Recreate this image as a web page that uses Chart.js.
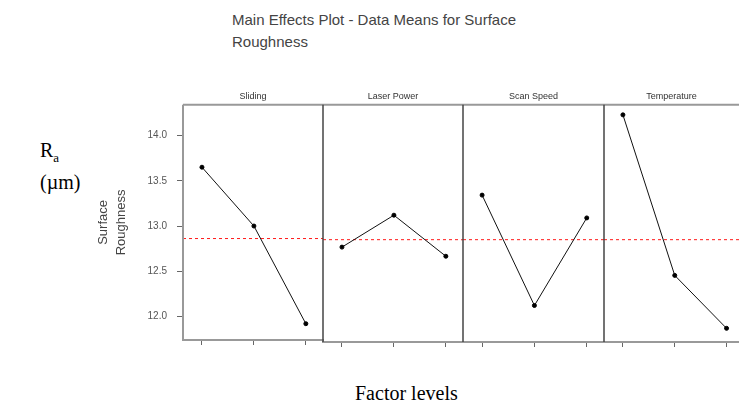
<!DOCTYPE html>
<html>
<head>
<meta charset="utf-8">
<script src="https://cdn.jsdelivr.net/npm/chart.js@4"></script>
<style>
  body { margin: 0; background: #fff; width: 739px; height: 415px; position: relative; overflow: hidden; }
  .box { position: absolute; }
  #mainTitle { position: absolute; left: 232px; top: 9px; font: 15px "Liberation Sans", Arial, sans-serif; color: #444; line-height: 22px; }
  #ra { position: absolute; left: 40px; top: 138px; font: 20px "Liberation Serif", "Times New Roman", serif; color: #000; line-height: 25px; }
  #ra sub { font-size: 13px; }
  #xlab { position: absolute; left: 355px; top: 382px; font: 20px "Liberation Serif", "Times New Roman", serif; color: #000; }
</style>
</head>
<body>
<div id="mainTitle">Main Effects Plot - Data Means for Surface<br>Roughness</div>
<div id="ra">R<sub>a</sub><br>(µm)</div>
<div id="xlab">Factor levels</div>

<!-- each box is 5px wider on the sides where Chart.js leaves its inner gap -->
<div class="box" style="left:90px;top:86px;width:238px;height:270px"><canvas id="c0"></canvas></div>
<div class="box" style="left:318px;top:86px;width:150px;height:266px"><canvas id="c1"></canvas></div>
<div class="box" style="left:458px;top:86px;width:151px;height:266px"><canvas id="c2"></canvas></div>
<div class="box" style="left:599px;top:86px;width:145px;height:266px"><canvas id="c3"></canvas></div>

<script>
// factors and mean values at levels 1,2,3
const factors = ["Sliding", "Laser Power", "Scan Speed", "Temperature"];
const levels = [1, 2, 3];
const sliding = [13.65, 13.0, 11.92];
const laserPower = [12.78, 13.13, 12.68];
const scanSpeed = [13.35, 12.14, 13.10];
const temperature = [14.23, 12.47, 11.89];
const yTicks = [12.0, 12.5, 13.0, 13.5, 14.0];

const series = [sliding, laserPower, scanSpeed, temperature];
const all = series.flat();
const grandMean = all.reduce((a, b) => a + b, 0) / all.length;

const yMin = 11.74, yMax = 14.34;
const xMin = 0.635;
const xMaxs = [3.33, 3.33, 3.33, 3.24];

const framePlugin = {
    id: 'frame',
    afterDraw(chart) {
        const a = chart.chartArea;
        const ctx = chart.ctx;
        ctx.save();
        ctx.lineWidth = 2;
        ctx.strokeStyle = '#999';
        ctx.beginPath();
        ctx.moveTo(a.left, a.top);
        ctx.lineTo(a.right, a.top);
        ctx.stroke();
        ctx.beginPath();
        ctx.moveTo(a.left, a.top);
        ctx.lineTo(a.left, a.bottom);
        if (chart.options.panelIndex > 0) {
            ctx.strokeStyle = '#444';
            ctx.lineWidth = 1.5;
        }
        ctx.stroke();
        ctx.restore();
    }
};

for (let i = 0; i < 4; i++) {
    const first = i === 0;
    const xMax = xMaxs[i];
    new Chart(document.getElementById('c' + i), {
        type: 'line',
        data: {
            datasets: [
                {
                    data: levels.map((l, k) => ({x: l, y: series[i][k]})),
                    borderColor: '#111',
                    borderWidth: 1,
                    pointRadius: 2,
                    pointBackgroundColor: '#000',
                    pointBorderColor: '#000',
                    tension: 0
                },
                {
                    data: [{x: xMin, y: grandMean}, {x: xMax, y: grandMean}],
                    borderColor: '#ff1a1a',
                    borderWidth: 1,
                    borderDash: [3, 3],
                    pointRadius: 0
                }
            ]
        },
        options: {
            panelIndex: i,
            responsive: true,
            maintainAspectRatio: false,
            animation: false,
            layout: {padding: 0},
            plugins: {
                legend: {display: false},
                tooltip: {enabled: false},
                title: {
                    display: true,
                    text: factors[i],
                    align: 'center',
                    fullSize: false,
                    color: '#333',
                    font: {family: 'Liberation Sans, Arial, sans-serif', size: 9, weight: 'normal'},
                    padding: {top: 5, bottom: 3}
                }
            },
            scales: {
                x: {
                    type: 'linear',
                    min: xMin,
                    max: xMax,
                    afterBuildTicks: s => { s.ticks = levels.map(v => ({value: v})); },
                    afterFit: s => { s.height = 10; },
                    ticks: {display: false},
                    grid: {drawOnChartArea: false, drawTicks: true, tickLength: 5, color: '#666'},
                    border: {display: true, color: '#999', width: 2}
                },
                y: {
                    display: first,
                    min: yMin,
                    max: yMax,
                    afterBuildTicks: s => { s.ticks = yTicks.map(v => ({value: v})); },
                    afterFit: s => { if (first) s.width = 93; },
                    ticks: {
                        callback: v => v.toFixed(1),
                        color: '#555',
                        font: {family: 'Liberation Sans, Arial, sans-serif', size: 10},
                        padding: 10
                    },
                    grid: {drawOnChartArea: false, drawTicks: true, tickLength: 6, color: '#666'},
                    border: {display: false},
                    title: {
                        display: true,
                        text: ['Surface', 'Roughness'],
                        color: '#444',
                        font: {family: 'Liberation Sans, Arial, sans-serif', size: 13, lineHeight: 1.4},
                        padding: {bottom: 4}
                    }
                }
            }
        },
        plugins: [framePlugin]
    });
}
</script>
</body>
</html>
